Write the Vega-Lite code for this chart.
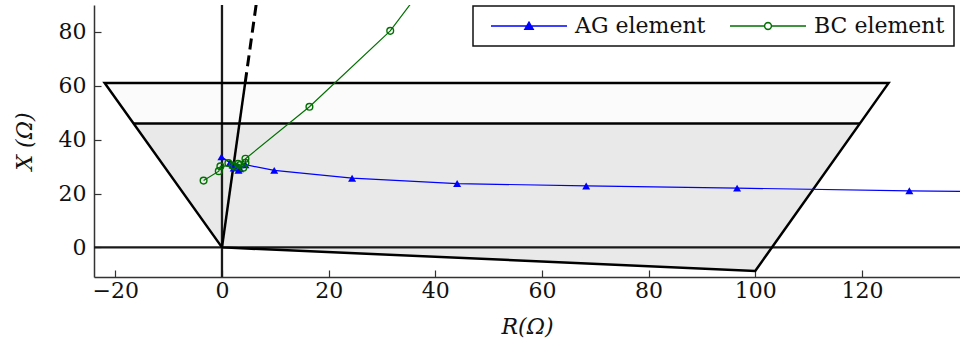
{
  "$schema": "https://vega.github.io/schema/vega-lite/v6.json",
  "autosize": {"type": "none"},
  "padding": {"left": 94, "top": 5, "right": 0, "bottom": 71},
  "width": 866,
  "height": 272,
  "background": "white",
  "config": {
    "view": {"stroke": null},
    "font": "DejaVu Serif",
    "axis": {
      "grid": false,
      "domainColor": "#333333",
      "domainWidth": 1.5,
      "tickColor": "#333333",
      "tickWidth": 1.2,
      "tickSize": -7,
      "labelFont": "DejaVu Serif",
      "labelFontSize": 22,
      "labelColor": "#111111",
      "titleFont": "DejaVu Serif",
      "titleFontSize": 22,
      "titleFontWeight": "normal",
      "titleFontStyle": "italic",
      "titleColor": "#111111"
    },
    "legend": {
      "orient": "none",
      "legendX": 379,
      "legendY": 1,
      "direction": "horizontal",
      "columns": 2,
      "labelFont": "DejaVu Serif",
      "labelFontSize": 22,
      "labelColor": "#111111",
      "labelOffset": 71,
      "columnPadding": 15,
      "padding": 9,
      "strokeColor": "#111111",
      "fillColor": "white",
      "symbolSize": 400,
      "symbolStrokeWidth": 1.4,
      "cornerRadius": 0
    }
  },
  "datasets": {
    "areas": [
      {"region": "outer", "R": -22, "top": 61, "bot": 61},
      {"region": "outer", "R": 0, "top": 61, "bot": 0},
      {"region": "outer", "R": 100, "top": 61, "bot": -8.75},
      {"region": "outer", "R": 125, "top": 61, "bot": 61},
      {"region": "inner", "R": -16.59, "top": 46, "bot": 46},
      {"region": "inner", "R": 0, "top": 46, "bot": 0},
      {"region": "inner", "R": 100, "top": 46, "bot": -8.75},
      {"region": "inner", "R": 119.62, "top": 46, "bot": 46}
    ],
    "lines": [
      {"g": "border", "i": 1, "R": 0, "X": 0},
      {"g": "border", "i": 2, "R": -22, "X": 61},
      {"g": "border", "i": 3, "R": 125, "X": 61},
      {"g": "border", "i": 4, "R": 100, "X": -8.75},
      {"g": "border", "i": 5, "R": 0, "X": 0},
      {"g": "inner", "i": 1, "R": -16.59, "X": 46},
      {"g": "inner", "i": 2, "R": 119.62, "X": 46},
      {"g": "ray", "i": 1, "R": 0, "X": 0},
      {"g": "ray", "i": 2, "R": 4.34, "X": 61}
    ],
    "axeslines": [
      {"g": "h", "i": 1, "R": -30, "X": 0},
      {"g": "h", "i": 2, "R": 150, "X": 0},
      {"g": "v", "i": 1, "R": 0, "X": -15},
      {"g": "v", "i": 2, "R": 0, "X": 100}
    ],
    "dash": [
      {"i": 1, "R": 4.34, "X": 61},
      {"i": 2, "R": 7.18, "X": 101}
    ],
    "series": [
      {"series": "AG element", "i": 1, "R": 165, "X": 20.1},
      {"series": "AG element", "i": 2, "R": 128.9, "X": 21.0},
      {"series": "AG element", "i": 3, "R": 96.6, "X": 22.0},
      {"series": "AG element", "i": 4, "R": 68.3, "X": 22.8},
      {"series": "AG element", "i": 5, "R": 44.1, "X": 23.7},
      {"series": "AG element", "i": 6, "R": 24.4, "X": 25.7},
      {"series": "AG element", "i": 7, "R": 9.8, "X": 28.6},
      {"series": "AG element", "i": 8, "R": 4.4, "X": 30.7},
      {"series": "AG element", "i": 9, "R": 3.1, "X": 28.6},
      {"series": "AG element", "i": 10, "R": 2.2, "X": 29.5},
      {"series": "AG element", "i": 11, "R": 1.5, "X": 31.4},
      {"series": "AG element", "i": 12, "R": -0.1, "X": 33.6},
      {"series": "AG element", "i": 13, "R": 2.6, "X": 30.3},
      {"series": "AG element", "i": 14, "R": 3.4, "X": 29.2},
      {"series": "AG element", "i": 15, "R": 2.0, "X": 30.6},
      {"series": "AG element", "i": 16, "R": 2.9, "X": 30.0},
      {"series": "BC element", "i": 1, "R": 52, "X": 134},
      {"series": "BC element", "i": 2, "R": 31.55, "X": 80.4},
      {"series": "BC element", "i": 3, "R": 16.4, "X": 52.2},
      {"series": "BC element", "i": 4, "R": 4.4, "X": 32.9},
      {"series": "BC element", "i": 5, "R": 4.4, "X": 31.4},
      {"series": "BC element", "i": 6, "R": 4.0, "X": 29.6},
      {"series": "BC element", "i": 7, "R": 3.0, "X": 31.0},
      {"series": "BC element", "i": 8, "R": 2.0, "X": 30.4},
      {"series": "BC element", "i": 9, "R": 1.2, "X": 31.3},
      {"series": "BC element", "i": 10, "R": 2.4, "X": 30.0},
      {"series": "BC element", "i": 11, "R": 3.4, "X": 30.6},
      {"series": "BC element", "i": 12, "R": -0.3, "X": 30.1},
      {"series": "BC element", "i": 13, "R": -0.6, "X": 28.3},
      {"series": "BC element", "i": 14, "R": -3.45, "X": 24.8}
    ]
  },
  "layer": [
    {
      "data": {"name": "areas"},
      "transform": [{"filter": "datum.region === 'outer'"}],
      "mark": {"type": "area", "color": "#fbfbfb", "opacity": 1},
      "encoding": {
        "x": {"field": "R", "type": "quantitative", "scale": {"domain": [-24, 138.4], "nice": false, "zero": false},
              "axis": {"values": [-20, 0, 20, 40, 60, 80, 100, 120], "title": "R(Ω)", "labelPadding": 10, "titlePadding": 15}},
        "y": {"field": "top", "type": "quantitative", "scale": {"domain": [-11, 90], "nice": false, "zero": false},
              "axis": {"values": [0, 20, 40, 60, 80], "title": "X (Ω)", "labelPadding": 15, "titlePadding": 22}},
        "y2": {"field": "bot"}
      }
    },
    {
      "data": {"name": "areas"},
      "transform": [{"filter": "datum.region === 'inner'"}],
      "mark": {"type": "area", "color": "#e9e9e9", "opacity": 1},
      "encoding": {
        "x": {"field": "R", "type": "quantitative"},
        "y": {"field": "top", "type": "quantitative"},
        "y2": {"field": "bot"}
      }
    },
    {
      "data": {"name": "axeslines"},
      "mark": {"type": "line", "color": "#1a1a1a", "strokeWidth": 2.3, "clip": true},
      "encoding": {
        "x": {"field": "R", "type": "quantitative"},
        "y": {"field": "X", "type": "quantitative"},
        "detail": {"field": "g"},
        "order": {"field": "i"}
      }
    },
    {
      "data": {"name": "lines"},
      "mark": {"type": "line", "color": "#000000", "strokeWidth": 2.5, "clip": true, "strokeJoin": "miter"},
      "encoding": {
        "x": {"field": "R", "type": "quantitative"},
        "y": {"field": "X", "type": "quantitative"},
        "detail": {"field": "g"},
        "order": {"field": "i"}
      }
    },
    {
      "data": {"name": "dash"},
      "mark": {"type": "line", "color": "#000000", "strokeWidth": 3, "strokeDash": [11, 6], "clip": true},
      "encoding": {
        "x": {"field": "R", "type": "quantitative"},
        "y": {"field": "X", "type": "quantitative"},
        "order": {"field": "i"}
      }
    },
    {
      "data": {"name": "series"},
      "mark": {"type": "line", "strokeWidth": 1.2, "clip": true},
      "encoding": {
        "x": {"field": "R", "type": "quantitative"},
        "y": {"field": "X", "type": "quantitative"},
        "color": {"field": "series", "type": "nominal", "title": null,
          "scale": {"domain": ["AG element", "BC element"], "range": ["#0000ff", "#007000"]},
          "legend": {"title": null,
            "encode": {
              "legend": {"update": {"strokeWidth": {"value": 1.5}}},
              "symbols": {"update": {
              "shape": {"signal": "datum.value === 'AG element' ? 'M-0.2,0H7.4M3.6,-0.38L4.02,0.32L3.18,0.32Z' : 'M-0.2,0H3.25M3.95,0H7.4M3.95,0L3.903,0.175L3.775,0.303L3.6,0.35L3.425,0.303L3.297,0.175L3.25,0L3.297,-0.175L3.425,-0.303L3.6,-0.35L3.775,-0.303L3.903,-0.175Z'"},
              "fill": {"signal": "datum.value === 'AG element' ? '#0000ff' : '#ffffff'"},
              "stroke": {"signal": "datum.value === 'AG element' ? '#0000ff' : '#007000'"},
              "strokeWidth": {"value": 1.4},
              "opacity": {"value": 1}
            }}}}},
        "order": {"field": "i"}
      }
    },
    {
      "data": {"name": "series"},
      "transform": [{"filter": "datum.series === 'AG element'"}],
      "mark": {"type": "point", "shape": "triangle-up", "filled": true, "color": "#0000ff", "size": 64, "opacity": 1, "clip": true},
      "encoding": {
        "x": {"field": "R", "type": "quantitative"},
        "y": {"field": "X", "type": "quantitative"}
      }
    },
    {
      "data": {"name": "series"},
      "transform": [{"filter": "datum.series === 'BC element'"}],
      "mark": {"type": "point", "shape": "circle", "filled": false, "color": "#007000", "size": 45, "strokeWidth": 1.4, "opacity": 1, "clip": true},
      "encoding": {
        "x": {"field": "R", "type": "quantitative"},
        "y": {"field": "X", "type": "quantitative"}
      }
    }
  ]
}
